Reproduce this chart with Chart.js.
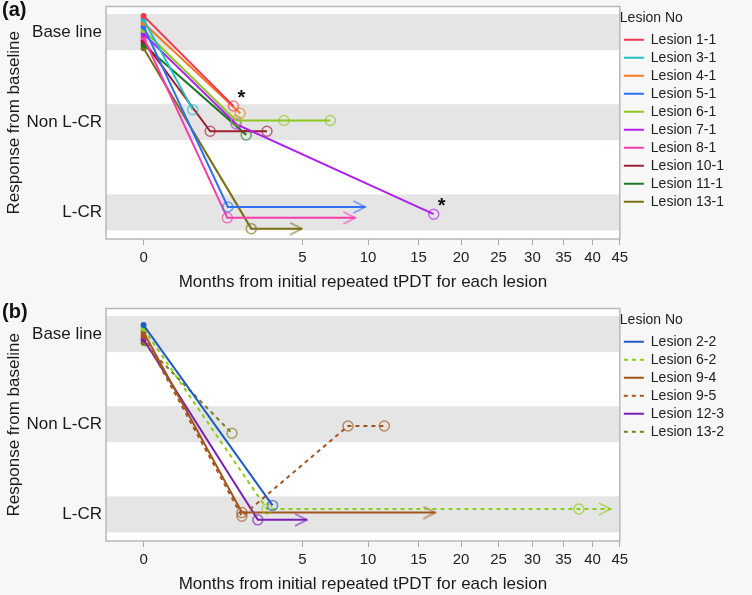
<!DOCTYPE html>
<html>
<head>
<meta charset="utf-8">
<script src="https://cdn.jsdelivr.net/npm/chart.js@4.4.1/dist/chart.umd.min.js"></script>
<style>
  html, body { margin: 0; padding: 0; background: #f7f7f7; overflow: hidden; }
  body { width: 752px; height: 595px; position: relative; font-family: "Liberation Sans", Arial, sans-serif; }
  .panel { position: absolute; left: 0; width: 752px; height: 296px; }
  .tag { position: absolute; left: 2px; font-weight: bold; font-size: 20px; color: #111; }
</style>
</head>
<body>
<div class="panel" style="top:0"><canvas id="chartA" width="752" height="296"></canvas></div>
<div class="panel" style="top:302px"><canvas id="chartB" width="752" height="296"></canvas></div>
<div class="tag" style="top:-2px">(a)</div>
<div class="tag" style="top:300px">(b)</div>
<script>
// Data. Months are raw months (axis is square-root scaled).
const responseLabels = ['L-CR', 'Non L-CR', 'Base line'];
const monthTicks = [0, 5, 10, 15, 20, 25, 30, 35, 40, 45];

const lesionsA = ['Lesion 1-1', 'Lesion 3-1', 'Lesion 4-1', 'Lesion 5-1', 'Lesion 6-1',
  'Lesion 7-1', 'Lesion 8-1', 'Lesion 10-1', 'Lesion 11-1', 'Lesion 13-1'];
const monthsA = [
  [0, 1.60],
  [0, 0.48],
  [0, 1.85],
  [0, 1.41, 9.76],
  [0, 1.70, 3.91, 6.92],
  [0, 1.70, 16.7],
  [0, 1.39, 8.9],
  [0, 0.88, 3.02],
  [0, 2.09],
  [0, 2.30, 4.98],
];
const responsesA = [
  ['Base line', 'Non L-CR'],
  ['Base line', 'Non L-CR'],
  ['Base line', 'Non L-CR'],
  ['Base line', 'L-CR', 'L-CR'],
  ['Base line', 'Non L-CR', 'Non L-CR', 'Non L-CR'],
  ['Base line', 'Non L-CR', 'L-CR'],
  ['Base line', 'L-CR', 'L-CR'],
  ['Base line', 'Non L-CR', 'Non L-CR'],
  ['Base line', 'Non L-CR'],
  ['Base line', 'L-CR', 'L-CR'],
];
const ongoingA = [false, false, false, true, false, false, true, false, false, true];
const flaggedA = [true, false, false, false, false, true, false, false, false, false];
const colorsA = ['#f0384f', '#1fc0c4', '#f47a20', '#2f6ff5', '#8cc81e',
  '#b01ef0', '#f43cae', '#a01e30', '#1c7a24', '#7a6e14'];

const lesionsB = ['Lesion 2-2', 'Lesion 6-2', 'Lesion 9-4', 'Lesion 9-5', 'Lesion 12-3', 'Lesion 13-2'];
const monthsB = [
  [0, 3.30],
  [0, 3.02, 37.6, 43.3],
  [0, 1.92, 16.9],
  [0, 1.92, 8.29, 11.5],
  [0, 2.59, 5.30],
  [0, 1.55],
];
const responsesB = [
  ['Base line', 'L-CR'],
  ['Base line', 'L-CR', 'L-CR', 'L-CR'],
  ['Base line', 'L-CR', 'L-CR'],
  ['Base line', 'L-CR', 'Non L-CR', 'Non L-CR'],
  ['Base line', 'L-CR', 'L-CR'],
  ['Base line', 'Non L-CR'],
];
const ongoingB = [false, true, true, false, true, false];
const flaggedB = [false, false, false, false, false, false];
const dashedB = [false, true, false, true, false, true];
const colorsB = ['#1f5bc4', '#8ccc14', '#a2561e', '#a2561e', '#7a1eb4', '#7a7a1e'];

Chart.defaults.font.family = '"Liberation Sans", Arial, sans-serif';
Chart.defaults.color = '#222';

// Square-root x scale.
const sq = v => Math.sign(v) * Math.sqrt(Math.abs(v));
class SqrtScale extends Chart.LinearScale {
  configure() {
    super.configure();
    this._sStart = sq(this.min);
    this._sRange = sq(this.max) - this._sStart;
  }
  getPixelForValue(value) {
    return this.getPixelForDecimal((sq(value) - this._sStart) / this._sRange);
  }
  getValueForPixel(pixel) {
    const s = this._sStart + this.getDecimalForPixel(pixel) * this._sRange;
    return Math.sign(s) * s * s;
  }
}
SqrtScale.id = 'sqrt';
SqrtScale.defaults = {};
Chart.register(SqrtScale);

function fade(hex, a) {
  const n = parseInt(hex.slice(1), 16);
  return `rgba(${n >> 16},${(n >> 8) & 255},${n & 255},${a})`;
}

// open arrow head, tip at the canvas centre
function chevron(color) {
  const c = document.createElement('canvas');
  c.width = 28;
  c.height = 14;
  const g = c.getContext('2d');
  g.strokeStyle = color;
  g.lineWidth = 1.5;
  g.beginPath();
  g.moveTo(2, 1);
  g.lineTo(14, 7);
  g.lineTo(2, 13);
  g.stroke();
  return c;
}

function buildDatasets(names, months, responses, ongoing, flagged, colors, dashed) {
  const n = names.length;
  return names.map((name, i) => {
    const jitter = ((n - 1) / 2 - i) * 0.04;
    const last = months[i].length - 1;
    const light = fade(colors[i], 0.65);
    const arrow = chevron(light);
    return {
      label: name,
      flagged: flagged[i],
      data: months[i].map((m, j) => ({x: m, y: responseLabels.indexOf(responses[i][j]) + jitter})),
      borderColor: colors[i],
      backgroundColor: colors[i],
      borderWidth: 2,
      borderDash: dashed && dashed[i] ? [4, 4] : [],
      pointStyle: months[i].map((m, j) => (j === last && ongoing[i]) ? arrow : 'circle'),
      pointRadius: months[i].map((m, j) => j === 0 ? 3 : 5),
      pointBackgroundColor: months[i].map((m, j) => j === 0 ? colors[i] : 'rgba(0,0,0,0)'),
      pointBorderColor: months[i].map((m, j) => j === 0 ? colors[i] : light),
      pointBorderWidth: months[i].map((m, j) => j === 0 ? 0 : 1.5),
      fill: false,
    };
  });
}

const bandPlugin = {
  id: 'bands',
  beforeDraw(chart) {
    const {ctx, chartArea: a, scales: {y}} = chart;
    ctx.save();
    ctx.fillStyle = '#ffffff';
    ctx.fillRect(a.left, a.top, a.width, a.height);
    ctx.fillStyle = '#e5e5e5';
    responseLabels.forEach((label, v) => {
      const t = y.getPixelForValue(v + 0.2);
      const b = y.getPixelForValue(v - 0.2);
      ctx.fillRect(a.left, t, a.width, b - t);
    });
    ctx.restore();
  },
  afterDatasetsDraw(chart) {
    const {ctx, chartArea: a} = chart;
    ctx.save();
    chart.data.datasets.forEach((ds, i) => {
      if (!ds.flagged) return;
      const pts = chart.getDatasetMeta(i).data;
      const p = pts[pts.length - 1];
      ctx.fillStyle = '#111';
      ctx.font = 'bold 20px "Liberation Sans", Arial, sans-serif';
      ctx.textAlign = 'center';
      ctx.textBaseline = 'middle';
      ctx.fillText('*', p.x + 8, p.y - 8);
    });
    ctx.strokeStyle = '#b8b8b8';
    ctx.lineWidth = 1.5;
    ctx.strokeRect(a.left, a.top, a.width, a.height);
    ctx.restore();
  },
};

function makeChart(canvasId, datasets) {
  return new Chart(document.getElementById(canvasId), {
    type: 'line',
    data: {datasets},
    plugins: [bandPlugin],
    options: {
      responsive: false,
      animation: false,
      layout: {padding: {top: 3, left: 2, right: 18, bottom: 0}},
      plugins: {
        tooltip: {enabled: false},
        legend: {
          position: 'right',
          align: 'start',
          title: {display: true, text: 'Lesion No', position: 'start', color: '#222',
            font: {size: 14}, padding: {top: 8, bottom: 1}},
          labels: {
            usePointStyle: true,
            pointStyle: 'line',
            pointStyleWidth: 20,
            padding: 4,
            color: '#222',
            font: {size: 14},
            generateLabels: chart => chart.data.datasets.map((ds, i) => ({
              text: ds.label,
              strokeStyle: ds.borderColor,
              fillStyle: ds.borderColor,
              fontColor: '#222',
              lineWidth: 2,
              lineDash: ds.borderDash,
              pointStyle: 'line',
              datasetIndex: i,
            })),
          },
        },
      },
      scales: {
        x: {
          type: 'sqrt',
          min: -0.28,
          max: 45,
          bounds: 'data',
          afterBuildTicks: s => { s.ticks = monthTicks.map(v => ({value: v})); },
          afterFit: s => { s.height = 57; s.paddingLeft = 0; s.paddingRight = 0; },
          grid: {drawOnChartArea: false, drawTicks: true, tickLength: 6, color: '#a8a8a8'},
          border: {display: false},
          ticks: {autoSkip: false, maxRotation: 0, padding: 4, color: '#222', font: {size: 15},
            callback: v => String(v)},
          title: {display: true, text: 'Months from initial repeated tPDT for each lesion',
            color: '#1a1a1a', font: {size: 17}, padding: {top: 0, bottom: 3}},
        },
        y: {
          type: 'linear',
          min: -0.295,
          max: 2.284,
          bounds: 'data',
          afterBuildTicks: s => { s.ticks = responseLabels.map((l, v) => ({value: v})); },
          afterFit: s => { s.width = 104; s.paddingTop = 0; s.paddingBottom = 0; },
          grid: {display: false, drawTicks: false},
          border: {display: false},
          ticks: {padding: 4, color: '#1a1a1a', font: {size: 17},
            callback: v => responseLabels[v]},
          title: {display: true, text: 'Response from baseline', color: '#1a1a1a',
            font: {size: 17}, padding: {top: 2, bottom: 0}},
        },
      },
    },
  });
}

makeChart('chartA', buildDatasets(lesionsA, monthsA, responsesA, ongoingA, flaggedA, colorsA, null));
makeChart('chartB', buildDatasets(lesionsB, monthsB, responsesB, ongoingB, flaggedB, colorsB, dashedB));
</script>
</body>
</html>
